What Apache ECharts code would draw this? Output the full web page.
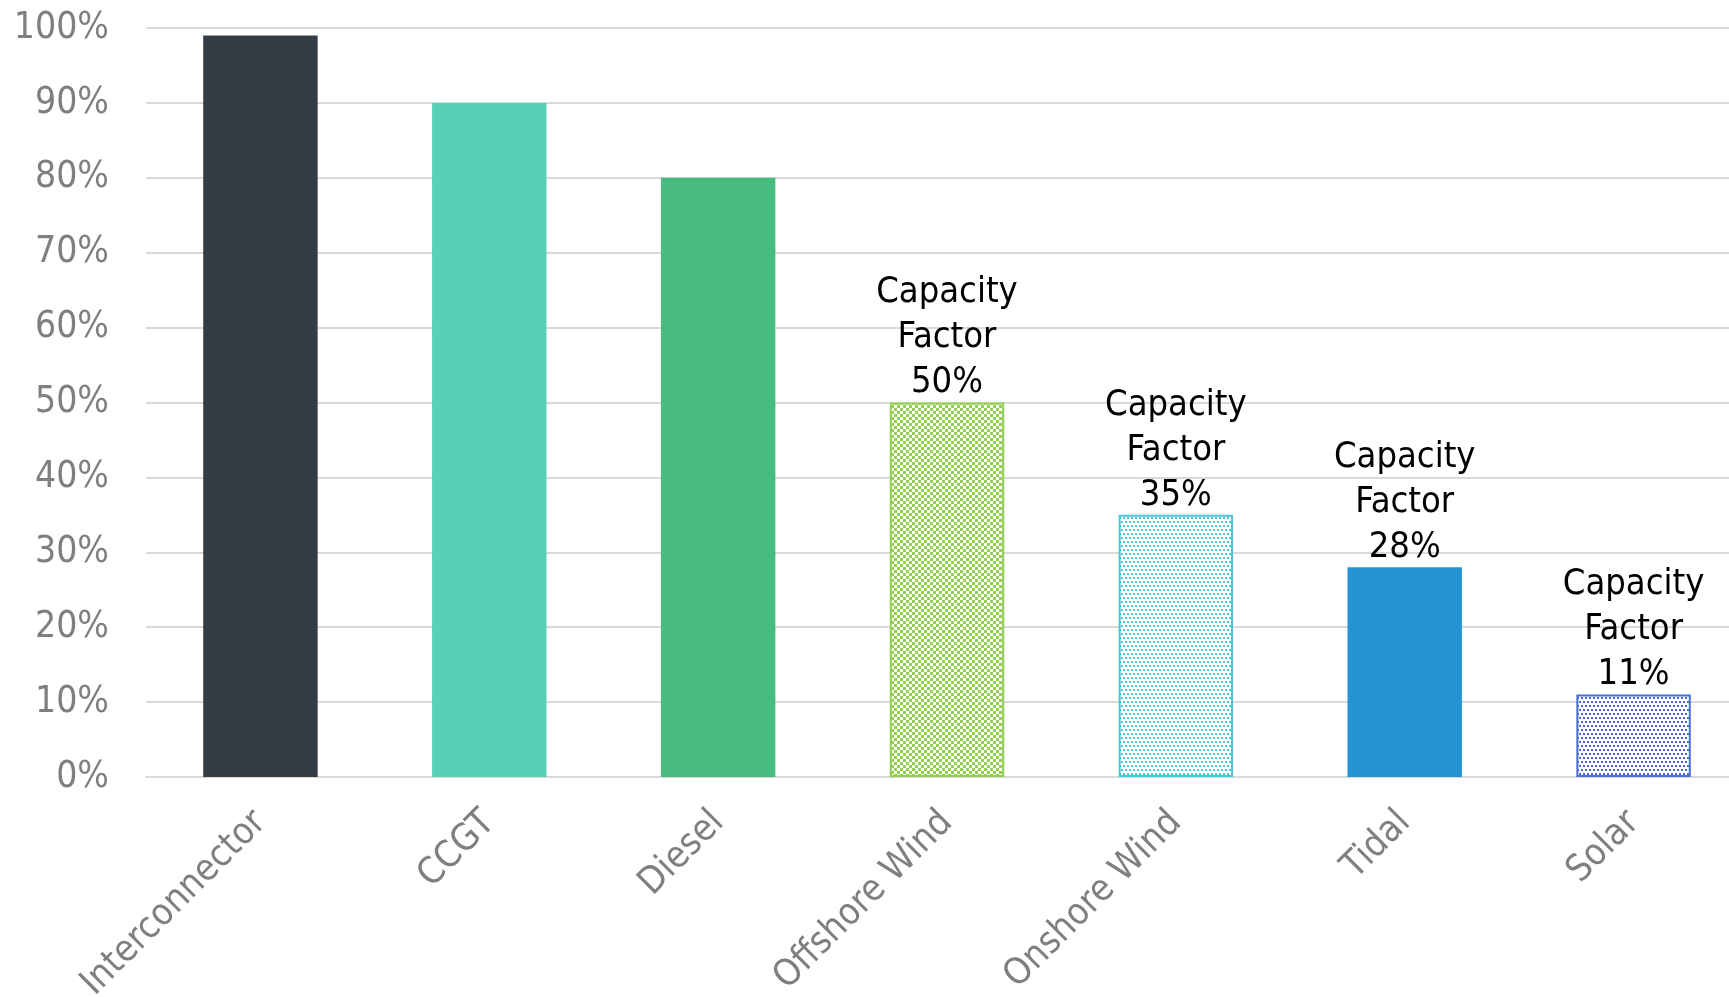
<!DOCTYPE html>
<html>
<head>
<meta charset="utf-8">
<script src="https://cdn.jsdelivr.net/npm/echarts@6/dist/echarts.min.js"></script>
<style>
  html, body { margin: 0; padding: 0; background: #ffffff; overflow: hidden; }
  #chart { width: 1729px; height: 997px; }
</style>
</head>
<body>
<div id="chart"></div>
<script>
// Generation technologies and their availability (%)
const categories = ['Interconnector', 'CCGT', 'Diesel', 'Offshore Wind', 'Onshore Wind', 'Tidal', 'Solar'];
const values = [99, 90, 80, 50, 35, 28, 11];
// Which bars carry a "Capacity Factor" label
const showCapacityFactor = [false, false, false, true, true, true, true];
// Y axis ticks
const yMin = 0, yMax = 100, yStep = 10;

// Fill styles: solid colours or small repeating patterns
const fills = [
  { color: '#363c46' },
  { color: '#57d0b6' },
  { color: '#48bc7e' },
  { pattern: 'checker', color: '#92d050' },
  { pattern: 'dots', color: '#4cc4da' },
  { color: '#2394cf' },
  { pattern: 'dots', color: '#4a6dd8' }
];

function makePattern(kind, color) {
  const c = document.createElement('canvas');
  const ctx = c.getContext('2d');
  if (kind === 'checker') {
    c.width = 6; c.height = 6;
    ctx.fillStyle = '#ffffff';
    ctx.fillRect(0, 0, 6, 6);
    ctx.fillStyle = color;
    ctx.fillRect(0, 0, 3, 3);
    ctx.fillRect(3, 3, 3, 3);
  } else {
    c.width = 8; c.height = 8;
    ctx.fillStyle = '#ffffff';
    ctx.fillRect(0, 0, 8, 8);
    ctx.fillStyle = color;
    ctx.fillRect(1, 1, 2, 2);
    ctx.fillRect(5, 1, 2, 2);
    ctx.fillRect(3, 5, 2, 2);
    ctx.fillRect(7, 5, 1, 2);
    ctx.fillRect(0, 5, 1, 2);
  }
  return { image: c, repeat: 'repeat' };
}

const FONT = '"DejaVu Sans Condensed", "DejaVu Sans", sans-serif';

const seriesData = values.map((v, i) => {
  const f = fills[i];
  return {
    value: v,
    itemStyle: f.pattern
      ? { color: makePattern(f.pattern, f.color), borderColor: f.color, borderWidth: 2 }
      : { color: f.color },
    label: { show: showCapacityFactor[i] }
  };
});

const chart = echarts.init(document.getElementById('chart'), null, { renderer: 'canvas' });
chart.setOption({
  animation: false,
  backgroundColor: '#ffffff',
  // plot area runs a little past the right edge of the canvas
  grid: {
    left: 146, top: 28, width: 1602, height: 749,
    containLabel: false,
    outerBoundsMode: 'none'
  },
  xAxis: {
    type: 'category',
    data: categories,
    axisLine: { show: true, lineStyle: { color: '#d9d9d9', width: 2 } },
    axisTick: { show: false },
    axisLabel: {
      rotate: 45,
      margin: 40,
      color: '#7f7f7f',
      fontFamily: FONT,
      fontSize: 37
    }
  },
  yAxis: {
    type: 'value',
    min: yMin,
    max: yMax,
    interval: yStep,
    axisLine: { show: false },
    axisTick: { show: false },
    splitLine: { lineStyle: { color: '#d9d9d9', width: 2 } },
    axisLabel: {
      margin: 37,
      color: '#7f7f7f',
      fontFamily: FONT,
      fontSize: 37,
      padding: [10, 0, 0, 0],
      formatter: '{value}%'
    }
  },
  series: [{
    type: 'bar',
    data: seriesData,
    barWidth: '50%',
    label: {
      position: 'top',
      distance: -3,
      color: '#000000',
      fontFamily: FONT,
      fontSize: 36,
      lineHeight: 45,
      align: 'center',
      formatter: p => 'Capacity\nFactor\n' + p.value + '%'
    }
  }]
});
</script>
</body>
</html>
